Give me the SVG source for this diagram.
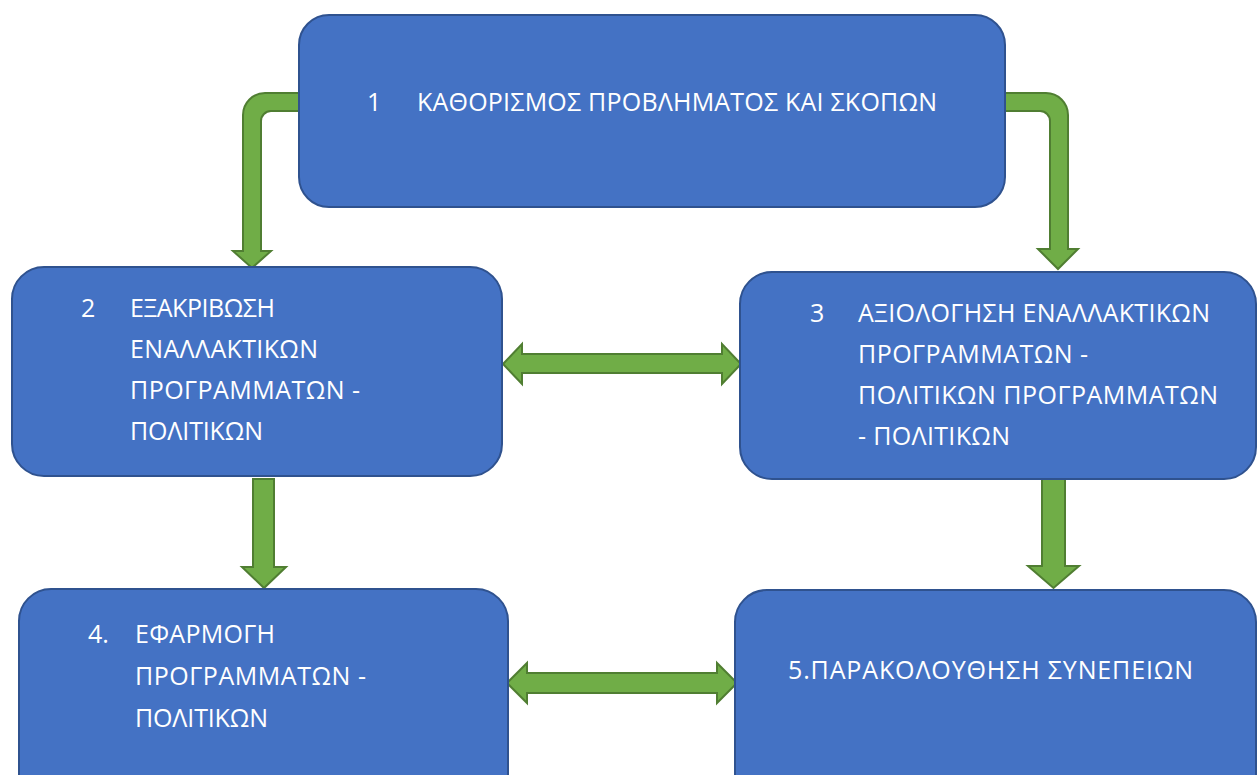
<svg xmlns="http://www.w3.org/2000/svg" width="1257" height="775" viewBox="0 0 1257 775">
  <style>
    .box { fill: #4472C4; stroke: #2F528F; stroke-width: 2; }
    .arrow { fill: #70AD47; stroke: #507E32; stroke-width: 2; stroke-linejoin: miter; }
    .label { fill: #FFFFFF; font-family: "Open Sans", "Noto Sans", "DejaVu Sans", sans-serif; font-size: 25px; }
  </style>
  <rect width="1257" height="775" fill="#FFFFFF"/>

  <!-- connectors -->
  <g id="connectors">
    <!-- 1 -> 2 bent arrow -->
    <path class="arrow" d="M299,93 L265,93 A22,22 0 0 0 243,115 L243,251 L233,251 L252,268 L271,251 L261,251 L261,121 A10,10 0 0 1 271,111 L299,111 Z"/>
    <!-- 1 -> 3 bent arrow -->
    <path class="arrow" d="M1005,93 L1046,93 A22,22 0 0 1 1068,115 L1068,249 L1078,249 L1058,269 L1038,249 L1050,249 L1050,121 A10,10 0 0 0 1040,111 L1005,111 Z"/>
    <!-- 2 <-> 3 -->
    <path class="arrow" d="M503,364 L522,344 L522,354 L722,354 L722,344 L741,364 L722,384 L722,373 L522,373 L522,384 Z"/>
    <!-- 2 -> 4 -->
    <path class="arrow" d="M253,479 L274,479 L274,567 L286,567 L264,588 L242,567 L253,567 Z"/>
    <!-- 3 -> 5 -->
    <path class="arrow" d="M1042,479 L1065,479 L1065,566 L1079,566 L1053.5,588 L1028,566 L1042,566 Z"/>
    <!-- 4 <-> 5 -->
    <path class="arrow" d="M507,683 L527,663 L527,673 L717,673 L717,663 L737,683 L717,703 L717,693 L527,693 L527,703 Z"/>
  </g>

  <g id="node1">
    <rect class="box" x="299" y="15" width="706" height="192" rx="30" ry="30"/>
    <text class="label" x="367" y="111">1</text>
    <text class="label" x="417" y="111" textLength="520" lengthAdjust="spacing">ΚΑΘΟΡΙΣΜΟΣ ΠΡΟΒΛΗΜΑΤΟΣ ΚΑΙ ΣΚΟΠΩΝ</text>
  </g>

  <g id="node2">
    <rect class="box" x="12" y="267" width="490" height="209" rx="32" ry="32"/>
    <text class="label" x="81" y="317">2</text>
    <text class="label" x="130" y="317" textLength="145" lengthAdjust="spacing">ΕΞΑΚΡΙΒΩΣΗ</text>
    <text class="label" x="130" y="358" textLength="188" lengthAdjust="spacing">ΕΝΑΛΛΑΚΤΙΚΩΝ</text>
    <text class="label" x="130" y="399" textLength="230" lengthAdjust="spacing">ΠΡΟΓΡΑΜΜΑΤΩΝ -</text>
    <text class="label" x="130" y="440" textLength="133" lengthAdjust="spacing">ΠΟΛΙΤΙΚΩΝ</text>
  </g>

  <g id="node3">
    <rect class="box" x="740" y="272" width="516" height="207" rx="32" ry="32"/>
    <text class="label" x="810" y="322">3</text>
    <text class="label" x="858" y="322" textLength="352" lengthAdjust="spacing">ΑΞΙΟΛΟΓΗΣΗ ΕΝΑΛΛΑΚΤΙΚΩΝ</text>
    <text class="label" x="858" y="363" textLength="230" lengthAdjust="spacing">ΠΡΟΓΡΑΜΜΑΤΩΝ -</text>
    <text class="label" x="858" y="404" textLength="360" lengthAdjust="spacing">ΠΟΛΙΤΙΚΩΝ ΠΡΟΓΡΑΜΜΑΤΩΝ</text>
    <text class="label" x="858" y="445" textLength="152" lengthAdjust="spacing">- ΠΟΛΙΤΙΚΩΝ</text>
  </g>

  <g id="node4">
    <rect class="box" x="19" y="589" width="489" height="220" rx="32" ry="32"/>
    <text class="label" x="88" y="643">4.</text>
    <text class="label" x="135" y="643" textLength="140" lengthAdjust="spacing">ΕΦΑΡΜΟΓΗ</text>
    <text class="label" x="135" y="685" textLength="231" lengthAdjust="spacing">ΠΡΟΓΡΑΜΜΑΤΩΝ -</text>
    <text class="label" x="135" y="727" textLength="133" lengthAdjust="spacing">ΠΟΛΙΤΙΚΩΝ</text>
  </g>

  <g id="node5">
    <rect class="box" x="735" y="590" width="521" height="220" rx="32" ry="32"/>
    <text class="label" x="788" y="679" textLength="405" lengthAdjust="spacing">5.ΠΑΡΑΚΟΛΟΥΘΗΣΗ ΣΥΝΕΠΕΙΩΝ</text>
  </g>
</svg>
